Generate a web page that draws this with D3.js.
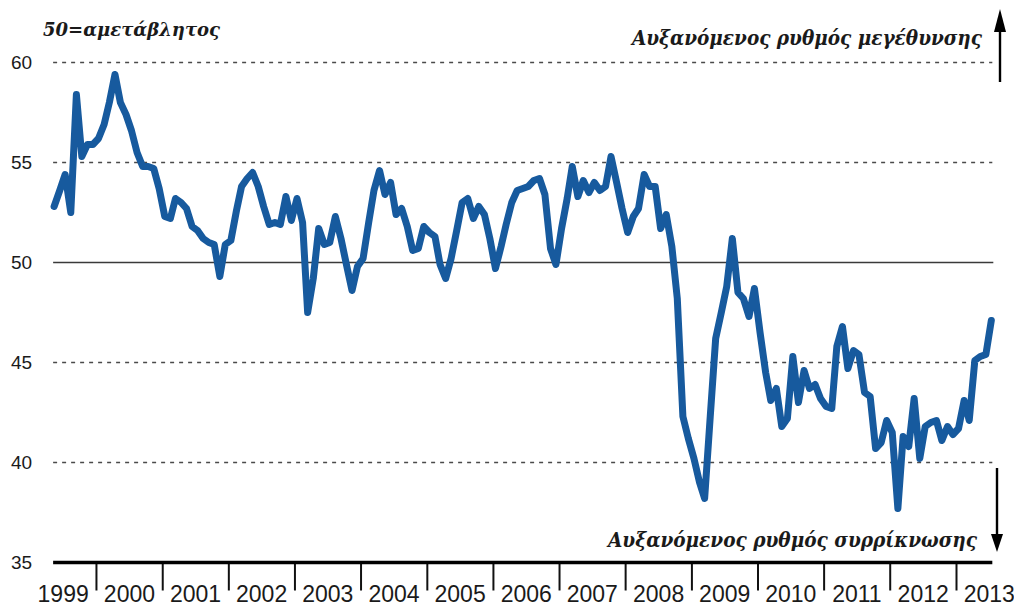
<!DOCTYPE html>
<html lang="el">
<head>
<meta charset="utf-8">
<title>PMI μεταποίησης</title>
<script src="https://cdn.jsdelivr.net/npm/d3@7"></script>
<style>
  body { margin: 0; background: #fff; }
  svg { display: block; }
  .axis text { font-family: "Liberation Sans", Arial, sans-serif; fill: #1a1a1a; }
  .note { font-family: "DejaVu Serif", serif; font-style: italic; font-weight: bold; fill: #1a1a1a; }
</style>
</head>
<body>
<div id="chart"></div>
<script>
// monthly index, first reading May 1999
const firstMonth = new Date(1999, 4, 15);
const pmi1999 = [52.8, 53.6, 54.4, 52.5, 58.4, 55.3, 55.9, 55.9];
const pmi2000 = [56.2, 56.9, 58.0, 59.4, 58.0, 57.4, 56.6, 55.5, 54.8, 54.8, 54.7, 53.7];
const pmi2001 = [52.3, 52.2, 53.2, 53.0, 52.7, 51.8, 51.6, 51.2, 51.0, 50.9, 49.3, 50.9];
const pmi2002 = [51.1, 52.6, 53.8, 54.2, 54.5, 53.8, 52.8, 51.9, 52.0, 51.9, 53.3, 52.1];
const pmi2003 = [53.2, 52.0, 47.5, 49.2, 51.7, 50.9, 51.0, 52.3, 51.2, 49.9, 48.6, 49.8];
const pmi2004 = [50.2, 52.0, 53.6, 54.6, 53.4, 54.0, 52.4, 52.7, 51.8, 50.6, 50.7, 51.8];
const pmi2005 = [51.5, 51.3, 49.9, 49.2, 50.2, 51.6, 53.0, 53.2, 52.2, 52.8, 52.4, 51.2];
const pmi2006 = [49.7, 50.8, 51.9, 53.0, 53.6, 53.7, 53.8, 54.1, 54.2, 53.4, 50.7, 49.9];
const pmi2007 = [51.7, 53.2, 54.8, 53.3, 54.1, 53.5, 54.0, 53.6, 53.8, 55.3, 54.0, 52.7];
const pmi2008 = [51.5, 52.3, 52.7, 54.4, 53.8, 53.8, 51.7, 52.4, 50.8, 48.2, 42.3, 41.2];
const pmi2009 = [40.2, 39.0, 38.2, 42.3, 46.2, 47.5, 48.8, 51.2, 48.5, 48.2, 47.3, 48.7];
const pmi2010 = [46.5, 44.5, 43.1, 43.7, 41.8, 42.2, 45.3, 43.0, 44.6, 43.7, 43.9, 43.2];
const pmi2011 = [42.8, 42.7, 45.8, 46.8, 44.7, 45.6, 45.4, 43.5, 43.3, 40.7, 41.0, 42.1];
const pmi2012 = [41.5, 37.7, 41.3, 40.8, 43.2, 40.2, 41.8, 42.0, 42.1, 41.1, 41.8, 41.4];
const pmi2013 = [41.7, 43.1, 42.1, 45.1, 45.3, 45.4, 47.1];

const years = d3.range(1999, 2014);
const yTicks = [35, 40, 45, 50, 55, 60];
const gridValues = [40, 45, 55, 60];
const neutralValue = 50;

const baseLabel = "50=αμετάβλητος";
const upLabel = "Αυξανόμενος ρυθμός μεγέθυνσης";
const downLabel = "Αυξανόμενος ρυθμός συρρίκνωσης";

/* join the yearly arrays into one monthly series */
const values = [].concat(pmi1999, pmi2000, pmi2001, pmi2002, pmi2003, pmi2004, pmi2005,
  pmi2006, pmi2007, pmi2008, pmi2009, pmi2010, pmi2011, pmi2012, pmi2013);
const data = values.map((v, i) => ({date: d3.timeMonth.offset(firstMonth, i), value: v}));

const width = 1014, height = 610;

const svg = d3.select("#chart").append("svg")
  .attr("width", width)
  .attr("height", height);

/* scales */
const x = d3.scaleTime()
  .domain([new Date(1999, 0, 1), new Date(2014, 0, 1)])
  .range([29.85, 1022.1]);

const y = d3.scaleLinear()
  .domain([35, 60])
  .range([562.5, 62.5]);

const plotLeft = x(data[0].date) - 1;
const plotRight = x(data[data.length - 1].date) + 1;

/* dashed grid lines */
svg.append("g").selectAll("line")
  .data(gridValues)
  .join("line")
    .attr("x1", plotLeft)
    .attr("x2", plotRight)
    .attr("y1", d => y(d))
    .attr("y2", d => y(d))
    .attr("stroke", "#4a4a4a")
    .attr("stroke-width", 1.3)
    .attr("stroke-dasharray", "4,5");

/* solid line at 50 */
svg.append("line")
  .attr("x1", plotLeft)
  .attr("x2", plotRight + 1)
  .attr("y1", y(neutralValue))
  .attr("y2", y(neutralValue))
  .attr("stroke", "#3a3a3a")
  .attr("stroke-width", 1.6);

/* y labels */
const yAxis = d3.axisLeft(y)
  .tickValues(yTicks)
  .tickSize(0)
  .tickPadding(21);

svg.append("g")
  .attr("class", "axis yAxis")
  .attr("transform", `translate(${plotLeft},0)`)
  .call(yAxis)
  .call(g => g.select(".domain").remove())
  .selectAll("text")
    .attr("font-size", 19);

/* x axis: ticks at year boundaries */
const xAxis = d3.axisBottom(x)
  .tickValues(years.slice(1).map(yr => new Date(yr, 0, 1)))
  .tickSize(28)
  .tickSizeOuter(0)
  .tickFormat("");

svg.append("g")
  .attr("class", "axis xAxis")
  .attr("transform", `translate(0,${y(35)})`)
  .call(xAxis)
  .call(g => g.select(".domain").remove())
  .call(g => g.selectAll(".tick line").attr("stroke", "#111").attr("stroke-width", 2));

/* year labels in the middle of each year */
const xLabels = d3.axisBottom(x)
  .tickValues(years.map(yr => new Date(yr, 6, 1)))
  .tickSize(0)
  .tickPadding(23)
  .tickFormat(d3.timeFormat("%Y"));

svg.append("g")
  .attr("class", "axis xLabels")
  .attr("transform", `translate(0,${y(35)})`)
  .call(xLabels)
  .call(g => g.select(".domain").remove())
  .selectAll("text")
    .attr("font-size", 23);

/* thick base line */
svg.append("line")
  .attr("x1", plotLeft)
  .attr("x2", plotRight)
  .attr("y1", y(35))
  .attr("y2", y(35))
  .attr("stroke", "#000")
  .attr("stroke-width", 3.4);

/* PMI line */
const line = d3.line()
  .x(d => x(d.date))
  .y(d => y(d.value));

svg.append("path")
  .datum(data)
  .attr("d", line)
  .attr("fill", "none")
  .attr("stroke", "#175a9e")
  .attr("stroke-width", 7)
  .attr("stroke-linejoin", "round")
  .attr("stroke-linecap", "round");

/* notes */
svg.append("text")
  .attr("class", "note")
  .attr("x", 43)
  .attr("y", 36)
  .attr("font-size", 19)
  .attr("textLength", 177)
  .attr("lengthAdjust", "spacingAndGlyphs")
  .text(baseLabel);

svg.append("text")
  .attr("class", "note")
  .attr("x", 632)
  .attr("y", 45)
  .attr("font-size", 20)
  .attr("textLength", 350)
  .attr("lengthAdjust", "spacingAndGlyphs")
  .text(upLabel);

svg.append("text")
  .attr("class", "note")
  .attr("x", 608)
  .attr("y", 547)
  .attr("font-size", 20)
  .attr("textLength", 369)
  .attr("lengthAdjust", "spacingAndGlyphs")
  .text(downLabel);

/* arrows */
const arrows = svg.append("g").attr("fill", "#000").attr("stroke", "#000");

arrows.append("line")
  .attr("x1", 1000).attr("x2", 1000)
  .attr("y1", 82).attr("y2", 26)
  .attr("stroke-width", 2.4);
arrows.append("path")
  .attr("d", "M1000,9 L994,32 L1006,32 Z")
  .attr("stroke", "none");

arrows.append("line")
  .attr("x1", 997).attr("x2", 997)
  .attr("y1", 468).attr("y2", 538)
  .attr("stroke-width", 2.4);
arrows.append("path")
  .attr("d", "M997,552 L991,534 L1003,534 Z")
  .attr("stroke", "none");
</script>
</body>
</html>
